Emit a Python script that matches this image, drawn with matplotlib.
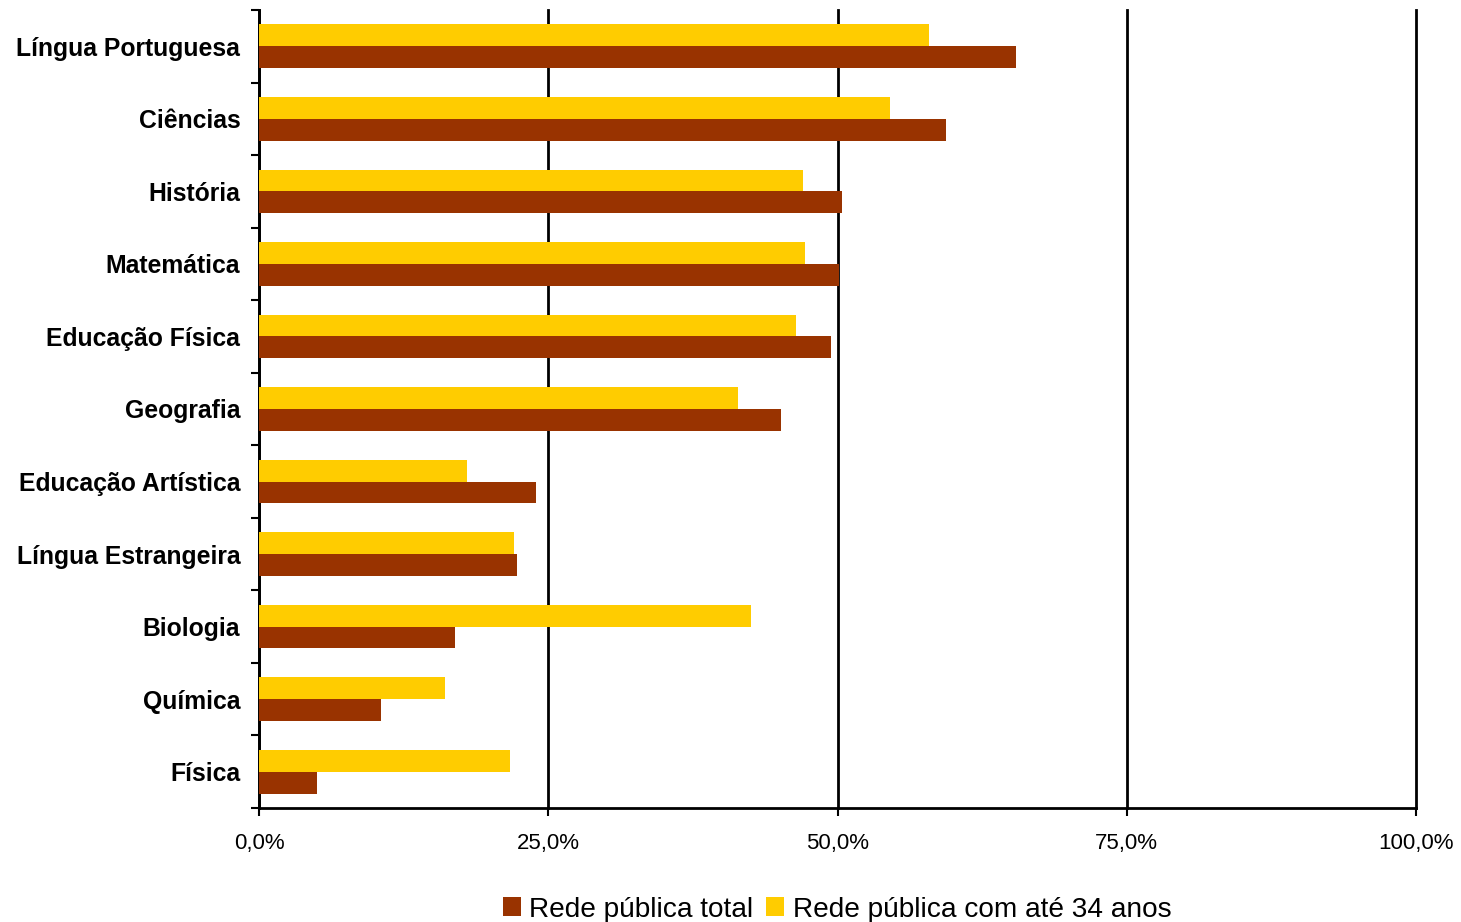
import numpy as np
import matplotlib.pyplot as plt
from matplotlib.ticker import FuncFormatter

plt.rcParams['font.family'] = ['Liberation Sans', 'DejaVu Sans']

# data (percent)
disciplinas = ["Língua Portuguesa", "Ciências", "História", "Matemática", "Educação Física",
               "Geografia", "Educação Artística", "Língua Estrangeira", "Biologia", "Química", "Física"]
rede_total = [65.4, 59.4, 50.4, 50.1, 49.4, 45.1, 23.9, 22.3, 16.9, 10.5, 5.0]
rede_ate34 = [57.9, 54.5, 47.0, 47.2, 46.4, 41.4, 18.0, 22.0, 42.5, 16.1, 21.7]

brown = "#993300"
yellow = "#FFCC00"

fig = plt.figure(figsize=(14.61, 9.22), dpi=100)
ax = fig.add_axes([0.1773, 0.1236, 0.7919, 0.8656])

y = np.arange(len(disciplinas))
h = 0.3
ax.barh(y - h/2, rede_ate34, height=h, color=yellow, label="Rede pública com até 34 anos", zorder=3)
ax.barh(y + h/2, rede_total, height=h, color=brown, label="Rede pública total", zorder=3)

ax.set_xlim(0, 100)
ax.set_ylim(len(disciplinas) - 0.5, -0.5)
ax.set_xticks([0, 25, 50, 75, 100])
ax.xaxis.set_major_formatter(FuncFormatter(lambda v, p: f"{v:.1f}%".replace(".", ",")))
ax.tick_params(axis='x', labelsize=16, length=6, width=1.5, pad=12)
ax.grid(axis='x', color='black', linewidth=2, zorder=1)
for gl in ax.xaxis.get_gridlines():
    gl.set_clip_on(False)

ax.set_yticks(y)
ax.set_yticklabels(disciplinas, fontsize=17.8, fontweight='bold')
ax.set_yticks(np.arange(len(disciplinas) + 1) - 0.5, minor=True)
ax.tick_params(axis='y', which='major', length=0, pad=13.5)
ax.tick_params(axis='y', which='minor', length=6, width=1.5)

ax.spines['top'].set_visible(False)
ax.spines['right'].set_visible(False)
ax.spines['left'].set_linewidth(2)
ax.spines['bottom'].set_linewidth(2)
ax.set_axisbelow(True)

handles, labels = ax.get_legend_handles_labels()
fig.legend(handles[::-1], labels[::-1], loc='lower center', bbox_to_anchor=(0.573, -0.028), ncol=2,
           frameon=False, fontsize=20.2, handlelength=0.65, handleheight=0.65, handletextpad=0.3,
           columnspacing=0.45)

fig.savefig("out.png", dpi=100)
